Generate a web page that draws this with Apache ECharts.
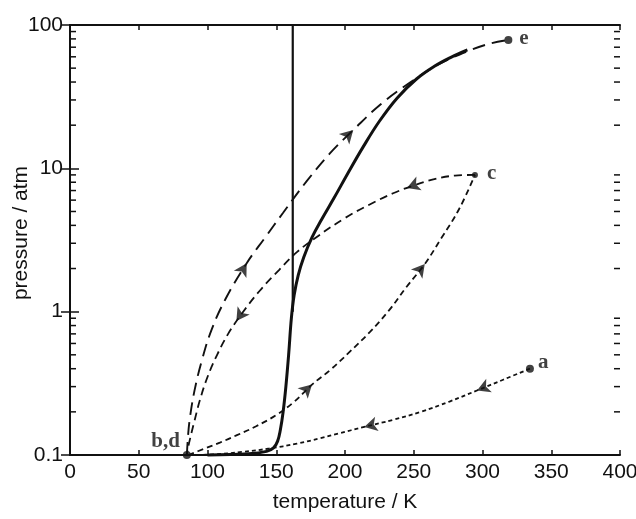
<!DOCTYPE html>
<html><head><meta charset="utf-8">
<script src="https://cdn.jsdelivr.net/npm/echarts@6/dist/echarts.min.js"></script>
<style>html,body{margin:0;padding:0;background:#fff}#c{width:636px;height:519px}</style>
</head><body><div id="c"></div>
<script>
// ---- data (temperature K, pressure atm) ----
const xTickMin = 0, xTickMax = 400, xTickStep = 50;
const yTickValues = [0.1, 1, 10, 100];
const yMinorTicks = [0.2,0.3,0.4,0.5,0.6,0.7,0.8,0.9,2,3,4,5,6,7,8,9,20,30,40,50,60,70,80,90];

const vaporCurve = [[100,0.1],[130,0.102],[143,0.106],[148,0.112],[151,0.125],[153,0.15],[155,0.2],[157,0.3],[159,0.5],[161,0.9],[163,1.3],[166,1.8],[170,2.4],[176,3.3],[183,4.4],[192,6.2],[202,9.2],[213,14],[225,21.3],[238,31],[252,42],[265,51.5],[277,59.5],[289,67]];
const meltingLine = [[162,1],[162,100]];

const pathAB = [[334.5,0.4],[315,0.335],[296,0.282],[276,0.236],[255,0.2],[235,0.176],[214,0.157],[195,0.141],[182,0.131],[165,0.12],[145,0.111],[125,0.105],[105,0.101],[86,0.1]];
const pathBC = [[86,0.1],[97,0.11],[109,0.122],[121,0.137],[135,0.158],[150,0.19],[163,0.235],[176,0.31],[189,0.39],[203,0.52],[218,0.72],[232,1.02],[245,1.5],[258,2.15],[270,3.25],[283,5.2],[294.5,9.0]];
const pathCD = [[294.5,9.0],[280,8.9],[265,8.4],[250,7.6],[235,6.7],[218,5.6],[200,4.5],[180,3.35],[165,2.6],[152,1.95],[138,1.4],[125,0.97],[115,0.7],[107,0.5],[100,0.35],[94.5,0.242],[90,0.165],[86.5,0.12],[85,0.1]];
const pathDE = [[85,0.1],[85.7,0.13],[87,0.175],[90.5,0.28],[96,0.46],[103,0.75],[113,1.22],[128.5,2.18],[142,3.3],[155,4.9],[172,8.1],[189,12.7],[206,18.5],[226,28],[247,39.5],[268,53],[289.7,66],[305,74],[318.8,78.7]];

const arrowsAB = [[296,0.282],[214,0.157]];
const arrowsBC = [[176,0.31],[258,2.15]];
const arrowsCD = [[245,7.3],[121,0.86]];
const arrowsDE = [[128.5,2.18],[206,18.5]];

const stateNames = ['a','c','e','b,d'];
const stateValues = [[334.5,0.4],[294.5,9.0],[318.8,78.7],[85,0.1]];

const regionNames = ['solid','liquid','gas'];
const regionValues = [[78.5,12.0],[202,55.3],[251,0.54]];

// ---- chart ----
const chart = echarts.init(document.getElementById('c'), null, {renderer:'canvas'});
const INK = '#111';
const sans = 'Liberation Sans, Arial, Helvetica, sans-serif';
const serif = 'Liberation Serif, Times New Roman, serif';

function lineSeries(id, data, width, dash){
  return {id:id, type:'line', data:data, symbol:'none', smooth:0.4, clip:false,
    lineStyle:{color:INK, width:width, type:dash || 'solid'}, z:3, silent:true};
}
function arrowSeries(id, data){
  return {id:id, type:'scatter', data:data.map(p=>({value:p, symbolRotate:0})), symbol:'arrow',
    symbolSize:[11,13], itemStyle:{color:INK}, clip:false, z:5, silent:true};
}

const stateLabelCfg = [
  {position:'right', distance:4, offset:[0,-6]},
  {position:'right', distance:9, offset:[0,-1]},
  {position:'right', distance:7, offset:[0,-1]},
  {position:'left', distance:3, offset:[0,-13]}
];

const option = {
  animation:false,
  backgroundColor:'#fff',
  grid:{left:70, right:16, top:25, bottom:64, containLabel:false, outerBoundsMode:'none'},
  xAxis:[{
    type:'value', min:xTickMin, max:xTickMax, interval:xTickStep, position:'bottom',
    axisLine:{show:true, lineStyle:{color:INK, width:2}},
    axisTick:{show:true, inside:true, length:5, lineStyle:{color:INK, width:1.5}},
    axisLabel:{color:INK, fontSize:21, fontFamily:sans, margin:7, showMinLabel:true, showMaxLabel:true},
    splitLine:{show:false},
    name:'temperature / K', nameLocation:'middle', nameGap:37, nameMoveOverlap:false,
    nameTextStyle:{color:INK, fontSize:21, fontFamily:sans}
  },{
    type:'value', min:xTickMin, max:xTickMax, interval:xTickStep, position:'top',
    axisLine:{show:true, lineStyle:{color:INK, width:2}},
    axisTick:{show:true, inside:true, length:5, lineStyle:{color:INK, width:1.5}},
    axisLabel:{show:false}, splitLine:{show:false}
  }],
  yAxis:[{
    type:'log', logBase:10, min:yTickValues[0], max:yTickValues[yTickValues.length-1], position:'left',
    axisLine:{show:true, lineStyle:{color:INK, width:2}},
    axisTick:{show:true, inside:true, length:9, lineStyle:{color:INK, width:1.5}},
    axisLabel:{color:INK, fontSize:21, fontFamily:sans, margin:7},
    splitLine:{show:false},
    name:'pressure / atm', nameLocation:'middle', nameGap:38, nameRotate:90, nameMoveOverlap:false,
    nameTextStyle:{color:INK, fontSize:21, fontFamily:sans, padding:[0,0,0,14]}
  },{
    type:'log', logBase:10, min:yTickValues[0], max:yTickValues[yTickValues.length-1], position:'right',
    axisLine:{show:true, lineStyle:{color:INK, width:2}},
    axisTick:{show:true, inside:true, length:9, lineStyle:{color:INK, width:1.5}},
    axisLabel:{show:false}, splitLine:{show:false}
  }],
  series:[
    lineSeries('vapor', vaporCurve, 3),
    Object.assign(lineSeries('melt', meltingLine, 2.2), {smooth:false}),
    lineSeries('ab', pathAB, 1.8, [4,3]),
    lineSeries('bc', pathBC, 1.8, [6,4]),
    lineSeries('cd', pathCD, 1.8, [8,5]),
    lineSeries('de', pathDE, 1.9, [13,7]),
    arrowSeries('arrAB', arrowsAB),
    arrowSeries('arrBC', arrowsBC),
    arrowSeries('arrCD', arrowsCD),
    arrowSeries('arrDE', arrowsDE),
    {id:'states', type:'scatter', clip:false, z:6, silent:true,
      data: stateNames.map((n,i)=>({name:n, value:stateValues[i], symbolSize: n==='c'?6:8,
        label:Object.assign({show:true, formatter:'{b}', color:INK, fontFamily:serif, fontWeight:'bold', fontSize:21}, stateLabelCfg[i])})),
      itemStyle:{color:INK}},
    {id:'regions', type:'scatter', clip:false, z:6, silent:true, symbolSize:1,
      itemStyle:{opacity:0},
      data: regionNames.map((n,i)=>({name:n, value:regionValues[i]})),
      label:{show:true, position:'inside', formatter:'{b}', color:INK, fontFamily:serif, fontWeight:'bold', fontSize:22}}
  ]
};
chart.setOption(option);

// orient arrowheads along their path's travel direction
function rotations(path, arrows){
  return arrows.map(pt=>{
    let best = 0, bestD = Infinity;
    for (let i=0;i<path.length-1;i++){
      const a = path[i], b = path[i+1];
      const lo = Math.min(a[0],b[0]), hi = Math.max(a[0],b[0]);
      const d = (pt[0]>=lo && pt[0]<=hi) ? 0 : Math.min(Math.abs(pt[0]-lo), Math.abs(pt[0]-hi));
      if (d < bestD){ bestD = d; best = i; }
    }
    const p1 = chart.convertToPixel({gridIndex:0}, path[best]);
    const p2 = chart.convertToPixel({gridIndex:0}, path[best+1]);
    const dx = p2[0]-p1[0], dy = p2[1]-p1[1];
    const deg = Math.atan2(-dx, -dy) * 180 / Math.PI;
    return {value:pt, symbolRotate:deg};
  });
}
// minor log ticks on both frame sides, positioned through the y scale
const minorEls = [];
yMinorTicks.forEach((v,i)=>{
  const l = chart.convertToPixel({xAxisIndex:0, yAxisIndex:0}, [xTickMin, v]);
  const r = chart.convertToPixel({xAxisIndex:0, yAxisIndex:0}, [xTickMax, v]);
  minorEls.push({type:'line', id:'ml'+i, z:100, silent:true, shape:{x1:l[0], y1:l[1], x2:l[0]+6, y2:l[1]}, style:{stroke:INK, lineWidth:1.5}});
  minorEls.push({type:'line', id:'mr'+i, z:100, silent:true, shape:{x1:r[0]-6, y1:r[1], x2:r[0], y2:r[1]}, style:{stroke:INK, lineWidth:1.5}});
});
chart.setOption({
  graphic:{elements:minorEls},
  series:[
    {id:'arrAB', data:rotations(pathAB, arrowsAB)},
    {id:'arrBC', data:rotations(pathBC, arrowsBC)},
    {id:'arrCD', data:rotations(pathCD, arrowsCD)},
    {id:'arrDE', data:rotations(pathDE, arrowsDE)}
  ]});
</script></body></html>
